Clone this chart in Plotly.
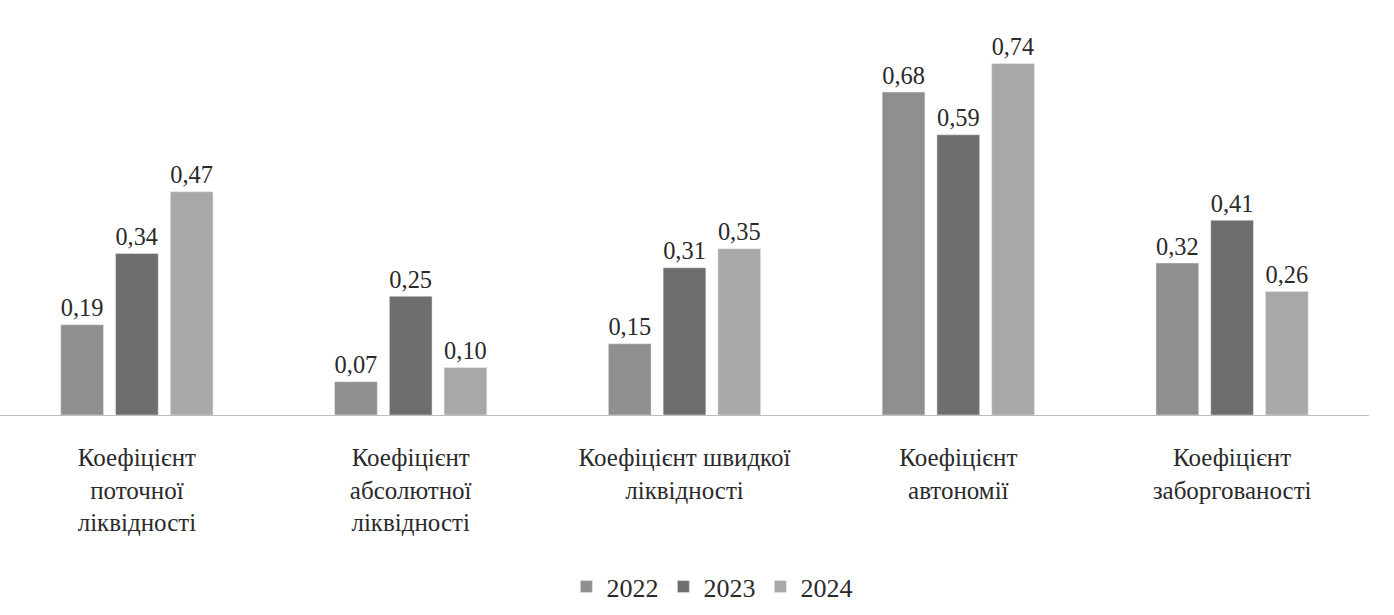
import plotly.graph_objects as go

categories = ["Коефіцієнт<br>поточної<br>ліквідності",
              "Коефіцієнт<br>абсолютної<br>ліквідності",
              "Коефіцієнт швидкої<br>ліквідності",
              "Коефіцієнт<br>автономії",
              "Коефіцієнт<br>заборгованості"]
years = ["2022", "2023", "2024"]
v2022 = [0.19, 0.07, 0.15, 0.68, 0.32]
v2023 = [0.34, 0.25, 0.31, 0.59, 0.41]
v2024 = [0.47, 0.10, 0.35, 0.74, 0.26]
colors = ["#8f8f8f", "#6e6e6e", "#a8a8a8"]
SERIF = "'Liberation Serif', 'Times New Roman', 'DejaVu Serif', serif"

fig = go.Figure()
for name, vals, col in zip(years, [v2022, v2023, v2024], colors):
    fig.add_trace(go.Bar(
        x=categories, y=vals, name=name, marker_color=col,
        text=[f"{v:.2f}".replace(".", ",") for v in vals],
        textposition="outside", cliponaxis=False,
        textfont=dict(family=SERIF, size=27, color="#2a2a2a"),
    ))

fig.update_layout(
    barmode="group", bargap=0.40, bargroupgap=0.22,
    width=1394, height=615,
    margin=dict(l=0, r=25, t=35, b=200),
    plot_bgcolor="white", paper_bgcolor="white",
    font=dict(family=SERIF, size=24, color="#2a2a2a"),
    showlegend=True,
    legend=dict(orientation="h", x=0.52, xanchor="center", y=-0.39, yanchor="top",
                font=dict(family=SERIF, size=26, color="#2a2a2a"), itemwidth=30),
    xaxis=dict(showline=True, linecolor="#bdbdbd", linewidth=1, ticks="",
               ticklabelstandoff=20,
               tickfont=dict(family=SERIF, size=25, color="#2a2a2a")),
    yaxis=dict(range=[0, 0.8], visible=False),
)
fig.write_html("out.html")
